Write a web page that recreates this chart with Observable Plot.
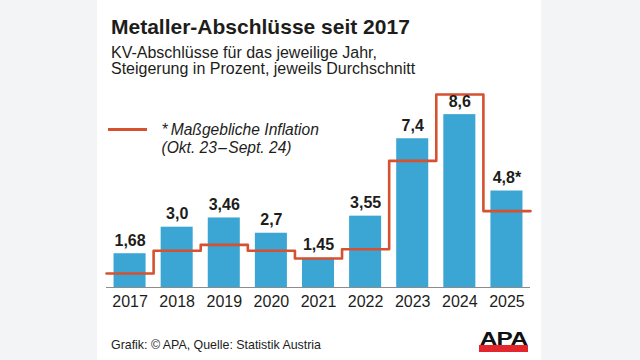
<!DOCTYPE html>
<html>
<head>
<meta charset="utf-8">
<script src="https://cdn.jsdelivr.net/npm/d3@7"></script>
<script src="https://cdn.jsdelivr.net/npm/@observablehq/plot@0.6"></script>
<style>
  html, body { margin: 0; padding: 0; }
  body { width: 640px; height: 360px; background: #f3f4f6; position: relative; overflow: hidden;
         font-family: "Liberation Sans", Arial, Helvetica, sans-serif; color: #1d1d1b; }
  #panel { position: absolute; left: 97px; top: 0; width: 444px; height: 360px; background: #fff; }
  .abs { position: absolute; white-space: nowrap; }
  #title { left: 14px; top: 15.5px; font-size: 21px; line-height: 21px; font-weight: bold; }
  #subtitle { left: 14px; top: 44.5px; font-size: 16px; line-height: 16.5px; }
  #chart { left: 0; top: 80px; }
  #legline { left: 11px; top: 128px; width: 39px; height: 2.6px; background: #d5512f; }
  #legtext { left: 64.5px; top: 120.5px; font-size: 15.6px; line-height: 18px; font-style: italic; }
  #footer { left: 14px; top: 338px; font-size: 12.4px; line-height: 14px; }
  #logo { left: 382px; top: 331px; width: 49px; height: 21px; }
  #logo .txt { position: absolute; left: 0; top: -2px; width: 49px; text-align: center; font-weight: bold;
               font-size: 19px; line-height: 19px; color: #111; transform: scaleX(1.28); transform-origin: center; letter-spacing: -0.5px; }
  #logo .bar { position: absolute; left: 0; top: 14px; width: 49px; height: 7px; background: #e2262b; }
</style>
</head>
<body>
<div id="panel">
  <div id="title" class="abs">Metaller-Abschlüsse seit 2017</div>
  <div id="subtitle" class="abs">KV-Abschlüsse für das jeweilige Jahr,<br>Steigerung in Prozent, jeweils Durchschnitt</div>
  <div id="chart" class="abs"></div>
  <div id="legline" class="abs"></div>
  <div id="legtext" class="abs">*&#8201;Maßgebliche Inflation<br>(Okt. 23&#8202;–&#8202;Sept. 24)</div>
  <div id="footer" class="abs">Grafik: © APA, Quelle: Statistik Austria</div>
  <div id="logo" class="abs"><div class="bar"></div><div class="txt">APA</div></div>
</div>
<script>
const years = [2017, 2018, 2019, 2020, 2021, 2022, 2023, 2024, 2025];
const deals = [1.68, 3.0, 3.46, 2.7, 1.45, 3.55, 7.4, 8.6, 4.8];
const dealLabels = ["1,68", "3,0", "3,46", "2,7", "1,45", "3,55", "7,4", "8,6", "4,8*"];
const inflation = [0.7, 1.83, 2.12, 1.83, 1.44, 1.9, 6.3, 9.6, 3.8];

const data = years.map((year, i) => ({year, deal: deals[i], label: dealLabels[i], infl: inflation[i]}));
const stepPts = data.map(d => ({x: d.year - 0.5, v: d.infl}))
  .concat([{x: data[data.length - 1].year + 0.5, v: data[data.length - 1].infl}]);

const font = "'Liberation Sans', Arial, Helvetica, sans-serif";
const chart = Plot.plot({
  width: 444,
  height: 230,
  marginTop: 6,
  marginBottom: 23,
  marginLeft: 9,
  marginRight: 11,
  style: {fontFamily: font, fontSize: "16px", color: "#1d1d1b", background: "transparent", overflow: "visible"},
  x: {domain: [years[0] - 0.5, years[years.length - 1] + 0.5], label: null, axis: null},
  y: {domain: [0, 10], axis: null},
  marks: [
    Plot.rectY(data, {x1: d => d.year - 0.34, x2: d => d.year + 0.34, y: "deal", fill: "#3ba5d4"}),
    Plot.ruleY([0], {stroke: "#8c8c8c", strokeWidth: 1}),
    Plot.line(stepPts, {x: "x", y: "v", curve: "step-after", stroke: "#d5512f", strokeWidth: 2.6}),
    Plot.text(data, {x: "year", y: "deal", text: "label", lineAnchor: "bottom", dy: -8,
                     fontWeight: "bold", fontSize: 16, fill: "#1d1d1b"}),
    Plot.axisX(years, {tickSize: 0, tickPadding: 8, tickFormat: d => String(d), fontSize: 16,
                       fill: "#1d1d1b", label: null})
  ]
});
document.getElementById("chart").appendChild(chart);
</script>
</body>
</html>
